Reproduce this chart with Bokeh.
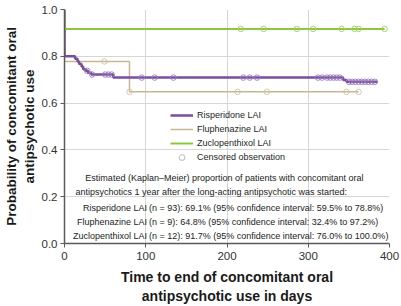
import numpy as np
from bokeh.plotting import figure
from bokeh.models import (Legend, LegendItem, Label, Range1d, FixedTicker,
                          PrintfTickFormatter)
from bokeh.embed import file_html
from bokeh.resources import INLINE

# ---- data ----
risp_time = [0, 0, 13, 16, 18, 21, 23, 26, 29, 33, 60, 343, 347, 385]
risp_surv = [1.0, 0.800, 0.789, 0.778, 0.767, 0.756, 0.745, 0.738, 0.730,
             0.722, 0.709, 0.699, 0.691, 0.691]
risp_cens = [28, 34, 50, 54, 58, 95, 111, 134, 220, 228, 237, 312, 317, 323,
             327, 331, 335, 339, 350, 354, 358, 362, 366, 370, 374, 378, 382]

fluph_time = [0, 0, 80, 362]
fluph_surv = [1.0, 0.778, 0.648, 0.648]
fluph_cens = [49, 80, 213, 249, 347, 362]

zuclo_time = [0, 0, 394]
zuclo_surv = [1.0, 0.917, 0.917]
zuclo_cens = [217, 245, 286, 306, 341, 357, 362, 394]

x_ticks = [0, 100, 200, 300, 400]
y_ticks = [0.0, 0.2, 0.4, 0.6, 0.8, 1.0]

series_names = ["Risperidone LAI", "Fluphenazine LAI", "Zuclopenthixol LAI"]
censor_name = "Censored observation"

note_lines = [
    "Estimated (Kaplan\u2013Meier) proportion of patients with concomitant oral",
    "antipsychotics 1 year after the long-acting antipsychotic was started:",
]
result_names = ["Risperidone LAI", "Fluphenazine LAI", "Zuclopenthixol LAI"]
result_texts = [
    "(n = 93): 69.1% (95% confidence interval: 59.5% to 78.8%)",
    "(n = 9): 64.8% (95% confidence interval: 32.4% to 97.2%)",
    "(n = 12): 91.7% (95% confidence interval: 76.0% to 100.0%)",
]


def km_value(times, surv, t):
    t_arr = np.asarray(times)
    idx = np.searchsorted(t_arr, t, side="right") - 1
    return float(np.asarray(surv)[idx])


FONT = "Liberation Sans"

p = figure(width=401, height=306, x_range=Range1d(0, 400), y_range=Range1d(0, 1),
           output_backend="svg", toolbar_location=None,
           min_border_left=62, min_border_right=12, min_border_top=9,
           min_border_bottom=63)
p.outline_line_color = None
p.background_fill_color = "white"

p.xgrid.ticker = FixedTicker(ticks=x_ticks)
p.ygrid.ticker = FixedTicker(ticks=y_ticks)
p.grid.grid_line_color = "#d6d6d6"
p.grid.grid_line_width = 1

p.xaxis.ticker = FixedTicker(ticks=x_ticks)
p.yaxis.ticker = FixedTicker(ticks=y_ticks)
p.yaxis.formatter = PrintfTickFormatter(format="%.1f")
for ax in (p.xaxis, p.yaxis):
    ax.axis_line_color = "#5a5a5a"
    ax.axis_line_width = 1.5
    ax.major_tick_line_color = "#5a5a5a"
    ax.major_tick_out = 4
    ax.major_tick_in = 0
    ax.minor_tick_line_color = None
    ax.major_label_text_font = FONT
    ax.major_label_text_font_size = "11.5px"
    ax.major_label_text_color = "#333333"
    ax.axis_label_text_font = FONT
    ax.axis_label_text_font_style = "bold"
    ax.axis_label_text_color = "#1a1a1a"

p.xaxis.axis_label = "Time to end of concomitant oral\nantipsychotic use in days"
p.xaxis.axis_label_text_font_size = "14px"
p.xaxis.axis_label_standoff = 6
p.xaxis.major_label_standoff = 4
p.yaxis.axis_label = "Probability of concomitant oral\nantipsychotic use"
p.yaxis.axis_label_text_font_size = "13.5px"
p.yaxis.axis_label_standoff = 2
p.yaxis.major_label_standoff = 3

colors = ["#7b4d9e", "#c8b692", "#8dc63f"]
circ_colors = ["#9a7cbf", "#cfc2a6", "#9fd05e"]
widths = [2.5, 1.5, 2.0]
times = [risp_time, fluph_time, zuclo_time]
survs = [risp_surv, fluph_surv, zuclo_surv]
cens = [risp_cens, fluph_cens, zuclo_cens]

line_renderers = {}
for i in [1, 0, 2]:
    r = p.step(x=times[i], y=survs[i], mode="after", line_color=colors[i],
               line_width=widths[i])
    line_renderers[i] = r
for i in [1, 0, 2]:
    cy = [km_value(times[i], survs[i], t) for t in cens[i]]
    p.scatter(x=cens[i], y=cy, marker="circle", size=5.5, fill_color=None,
              line_color=circ_colors[i], line_width=1.0, line_alpha=0.9)

# legend-only renderer for the censored-observation key (point lies off-range)
cens_dummy = p.scatter(x=[-1000], y=[-1000], marker="circle", size=7,
                       fill_color=None, line_color="#c4c4c4", line_width=1.1)

items = [LegendItem(label=series_names[i], renderers=[line_renderers[i]])
         for i in range(3)]
items.append(LegendItem(label=censor_name, renderers=[cens_dummy]))
legend = Legend(items=items, location=(106, 79), orientation="vertical",
                glyph_width=23, glyph_height=14, label_height=14,
                label_standoff=4, spacing=0, padding=0, margin=0,
                border_line_color=None, background_fill_alpha=0,
                label_text_font=FONT, label_text_font_size="9px",
                label_text_color="#262626")
p.add_layout(legend, "center")


# ---- annotation text (positions in screen-derived data coordinates) ----
def dx(px):
    return (px - 62) * 400.0 / 327.0


def dy(py):
    return (243 - py) / 234.0


note_left = [83, 73]
note_y = [177, 191]
for txt, lx, ly in zip(note_lines, note_left, note_y):
    p.add_layout(Label(x=dx(lx), y=dy(ly), text=txt, text_font=FONT,
                       text_font_size="9px", text_color="#222222",
                       text_align="left", text_baseline="middle"))

res_y = [207, 221, 235]
for name, txt, ly in zip(result_names, result_texts, res_y):
    p.add_layout(Label(x=dx(145), y=dy(ly), text=name, text_font=FONT,
                       text_font_size="9px", text_color="#222222",
                       text_align="right", text_baseline="middle"))
    p.add_layout(Label(x=dx(147), y=dy(ly), text=txt, text_font=FONT,
                       text_font_size="9px", text_color="#222222",
                       text_align="left", text_baseline="middle"))

open("out.html", "w").write(file_html(p, INLINE))
